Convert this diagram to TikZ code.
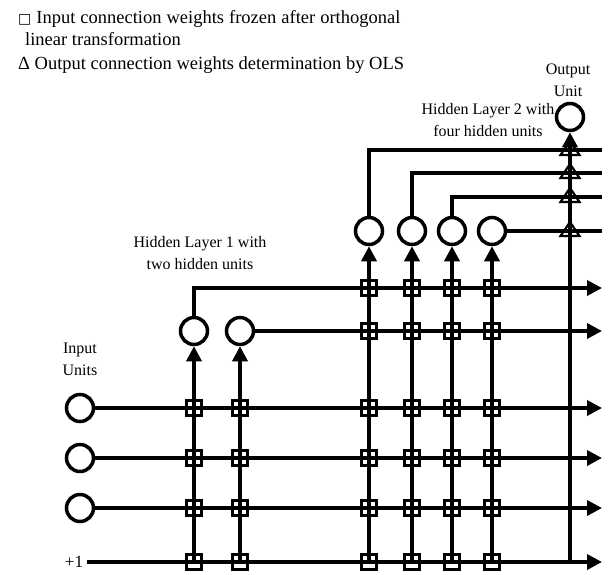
\documentclass[tikz,border=0pt]{standalone}
\usepackage{fontspec}
\setmainfont{Liberation Serif}
\newfontfamily\symfont{DejaVu Sans}
\usepackage{tikz}
\usetikzlibrary{calc,arrows.meta}
\def\frz(#1)(#2){\node[frz] (#1-#2) at (#1 |- #2) {};}
\def\ols(#1)(#2){\draw[tri] ($(#1 |- #2)+(-9.5,5)$) -- ($(#1 |- #2)+(9.5,5)$) -- ($(#1 |- #2)+(0,-9)$) -- cycle;}

\begin{document}
\begin{tikzpicture}[x=1pt, y=-1pt,
	font=\fontsize{16}{22}\selectfont,
	unit/.style={circle, draw, line width=3.5pt, minimum size=27pt, inner sep=0pt, fill=white},
	wire/.style={line width=3.5pt},
	arr/.style={wire, -{Triangle[length=15pt,width=15pt]}},
	frz/.style={draw, line width=2.2pt, minimum size=15pt, inner sep=0pt},
	tri/.style={line width=2.2pt, line join=miter},
	legend/.style={anchor=base west, inner sep=0pt, font=\fontsize{18.5}{22}\selectfont},
	lbl/.style={align=center, inner sep=0pt}]
			%%%%% START %%%%%
			\useasboundingbox (0,0) rectangle (608,574);
			
			\node[legend] (leg1) at (18,23) {{\symfont\fontsize{14}{14}\selectfont □}\hspace{5pt}\makebox[364pt][s]{Input connection weights frozen after orthogonal}};
			\node[legend] (leg2) at (25,45) {linear transformation};
			\node[legend] (leg3) at (18,69) {Δ Output connection weights determination by OLS};
			
			\node[lbl] (outlbl) at (568,80) {Output\\Unit};
			\node[lbl] (h2lbl) at (488,120) {Hidden Layer 2 with\\four hidden units};
			\node[lbl] (h1lbl) at (200,253) {Hidden Layer 1 with\\two hidden units};
			\node[lbl] (inlbl) at (80,359) {Input\\Units};
			
			\node[unit] (in1) at (80,408) {};
			\node[unit] (in2) at (80,458) {};
			\node[unit] (in3) at (80,508) {};
			\node[font=\fontsize{17}{22}\selectfont] (one) at (74,562) {+1};
			
			\node[unit] (h11) at (194,331) {};
			\node[unit] (h12) at (240,331) {};
			
			\node[unit] (h21) at (369,231) {};
			\node[unit] (h22) at (412,231) {};
			\node[unit] (h23) at (452,231) {};
			\node[unit] (h24) at (492,231) {};
			
			\node[unit] (out) at (570,117) {};
			
			\coordinate (rim) at (602,0);
			\coordinate (r11) at (602,288);
			\coordinate (r21) at (602,150);
			\coordinate (r22) at (602,173);
			\coordinate (r23) at (602,197);
			
			% inputs and bias
			\draw[arr] (in1) -- (in1 -| rim);
			\draw[arr] (in2) -- (in2 -| rim);
			\draw[arr] (in3) -- (in3 -| rim);
			\draw[arr] (one) -- (one -| rim);
			
			% hidden layer 1
			\draw[arr] (one -| h11) -- (h11);
			\draw[arr] (one -| h12) -- (h12);
			\draw[arr] (h11) |- (r11);
			\draw[arr] (h12) -- (h12 -| rim);
			
			% hidden layer 2
			\draw[arr] (one -| h21) -- (h21);
			\draw[arr] (one -| h22) -- (h22);
			\draw[arr] (one -| h23) -- (h23);
			\draw[arr] (one -| h24) -- (h24);
			\draw[wire] (h21) |- (r21);
			\draw[wire] (h22) |- (r22);
			\draw[wire] (h23) |- (r23);
			\draw[wire] (h24) -- (h24 -| rim);
			
			% output
			\draw[arr] (one -| out) -- (out);
			
			\frz(h11)(in1) \frz(h11)(in2) \frz(h11)(in3) \frz(h11)(one)
			\frz(h12)(in1) \frz(h12)(in2) \frz(h12)(in3) \frz(h12)(one)
			
			\frz(h21)(r11) \frz(h21)(h12) \frz(h21)(in1) \frz(h21)(in2) \frz(h21)(in3) \frz(h21)(one)
			\frz(h22)(r11) \frz(h22)(h12) \frz(h22)(in1) \frz(h22)(in2) \frz(h22)(in3) \frz(h22)(one)
			\frz(h23)(r11) \frz(h23)(h12) \frz(h23)(in1) \frz(h23)(in2) \frz(h23)(in3) \frz(h23)(one)
			\frz(h24)(r11) \frz(h24)(h12) \frz(h24)(in1) \frz(h24)(in2) \frz(h24)(in3) \frz(h24)(one)
			
			\ols(out)(r21) \ols(out)(r22) \ols(out)(r23) \ols(out)(h24)
			%%%%% END %%%%%
\end{tikzpicture}
\end{document}
